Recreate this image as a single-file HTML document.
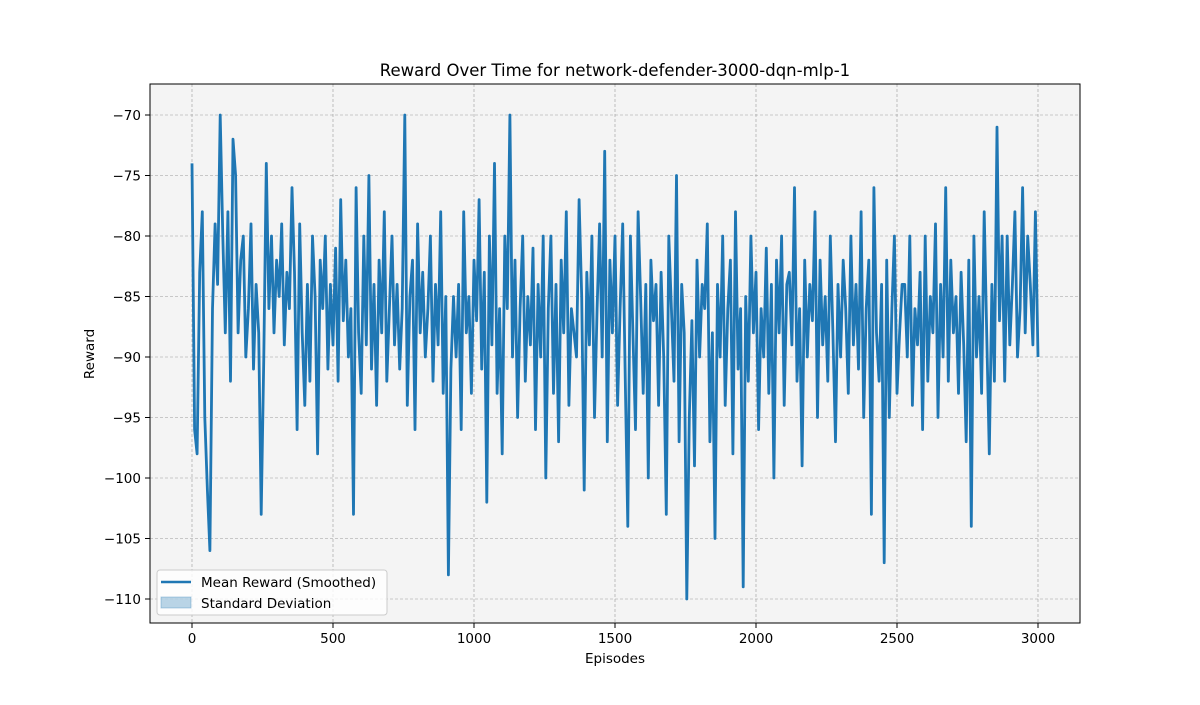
<!DOCTYPE html>
<html><head><meta charset="utf-8"><style>
body{margin:0;background:#fff}
svg text{font-family:"DejaVu Sans","Liberation Sans",sans-serif;fill:#000}
</style></head><body>
<svg id="c" width="1200" height="700" xmlns="http://www.w3.org/2000/svg">
<defs><clipPath id="clip"><rect x="150" y="84" width="930" height="539"/></clipPath></defs>
<rect x="0" y="0" width="1200" height="700" fill="#fff"/>
<rect x="150" y="84" width="930" height="539" fill="#f4f4f4"/>
<g id="grid"></g>
<g id="series" clip-path="url(#clip)"></g>
<rect x="150" y="84" width="930" height="539" fill="none" stroke="#000" stroke-width="1"/>
<g id="ticks"></g>
<text x="615" y="76" font-size="16.5" text-anchor="middle">Reward Over Time for network-defender-3000-dqn-mlp-1</text>
<text x="615" y="663" font-size="13.5" text-anchor="middle">Episodes</text>
<text x="94" y="354" font-size="13.5" text-anchor="middle" transform="rotate(-90 94 354)">Reward</text>
<g>
<rect x="157" y="570" width="230" height="45" rx="3" fill="#fff" fill-opacity="0.8" stroke="#ccc"/>
<g>
<line x1="161" y1="582" x2="191" y2="582" stroke="#1f77b4" stroke-width="2.5"/>
<text x="201" y="587" font-size="13.5">Mean Reward (Smoothed)</text>
</g>
<g>
<rect x="161" y="597" width="30" height="11" fill="#1f77b4" fill-opacity="0.3" stroke="#1f77b4" stroke-opacity="0.3"/>
<text x="201" y="608" font-size="13.5">Standard Deviation</text>
</g>
</g>
</svg>
<script>
const lastEpisode = 3000;
const rewards = [
-74,-96,-98,-83,-78,-95,-101,-106,-86,-79,-84,-70,-80,-88,-78,-92,-72,-75,-88,-82,
-80,-90,-86,-79,-91,-84,-88,-103,-90,-74,-86,-80,-88,-82,-85,-79,-89,-83,-86,-76,
-83,-96,-79,-88,-94,-84,-92,-80,-85,-98,-82,-86,-80,-91,-84,-89,-81,-92,-77,-87,
-82,-90,-86,-103,-76,-88,-93,-80,-89,-75,-91,-84,-94,-82,-88,-78,-92,-86,-80,-89,
-84,-91,-86,-70,-94,-85,-82,-96,-79,-88,-83,-90,-86,-80,-92,-84,-89,-78,-93,-85,
-108,-91,-85,-90,-84,-96,-78,-88,-85,-93,-82,-87,-77,-91,-83,-102,-80,-89,-74,-93,
-86,-98,-80,-86,-70,-90,-82,-95,-86,-80,-92,-85,-89,-81,-96,-84,-90,-80,-100,-86,
-80,-93,-84,-97,-82,-88,-78,-94,-86,-88,-90,-77,-85,-101,-83,-89,-80,-95,-86,-79,
-90,-73,-97,-82,-88,-80,-94,-86,-79,-92,-104,-80,-88,-96,-78,-85,-93,-84,-100,-82,
-87,-84,-94,-83,-90,-103,-80,-86,-92,-75,-97,-84,-88,-110,-95,-87,-99,-82,-90,-84,
-86,-79,-97,-88,-105,-84,-90,-80,-94,-86,-82,-98,-78,-91,-86,-109,-85,-92,-80,-88,
-83,-96,-86,-90,-81,-93,-84,-100,-82,-88,-80,-94,-84,-83,-89,-76,-92,-86,-99,-82,
-90,-84,-87,-78,-95,-82,-89,-85,-92,-80,-88,-97,-84,-90,-82,-86,-93,-80,-89,-84,
-91,-78,-95,-86,-82,-103,-76,-88,-92,-84,-107,-82,-95,-86,-80,-93,-88,-84,-84,-90,
-80,-94,-86,-89,-83,-96,-80,-92,-85,-88,-79,-95,-84,-90,-76,-92,-82,-88,-85,-93,
-83,-89,-97,-82,-104,-80,-90,-85,-93,-78,-88,-98,-84,-92,-71,-87,-80,-92,-80,-89,
-84,-78,-90,-86,-76,-88,-80,-84,-89,-78,-90
];
const xTicks = [0,500,1000,1500,2000,2500,3000];
const yTicks = [-70,-75,-80,-85,-90,-95,-100,-105,-110];
const xs = v => 192 + (v - 0) * (846 / 3000);
const ys = v => 115 + (-70 - v) * (484 / 40);
const NS = 'http://www.w3.org/2000/svg';
const grid = document.getElementById('grid'), ticks = document.getElementById('ticks');
function mk(t, a, p){const e=document.createElementNS(NS,t);for(const k in a)e.setAttribute(k,a[k]);p.appendChild(e);return e;}
xTicks.forEach(v=>{
  const x=xs(v);
  const g=mk('line',{x1:x,y1:84,x2:x,y2:623,stroke:'#999','stroke-width':0.6,'stroke-dasharray':'3,2'},grid);
  
  
  mk('line',{x1:x,y1:623,x2:x,y2:628,stroke:'#000'},ticks);
  const t=mk('text',{x:x,y:643,'font-size':13.5,'text-anchor':'middle'},ticks);
  t.textContent=v;
  
  
});
yTicks.forEach(v=>{
  const y=ys(v);
  const g=mk('line',{x1:150,y1:y,x2:1080,y2:y,stroke:'#999','stroke-width':0.6,'stroke-dasharray':'3,2'},grid);
  
  
  mk('line',{x1:145,y1:y,x2:150,y2:y,stroke:'#000'},ticks);
  const t=mk('text',{x:141,y:y+5,'font-size':13.5,'text-anchor':'end'},ticks);
  t.textContent='\u2212'+Math.abs(v);
  
  
});
const step = lastEpisode / (rewards.length - 1);
const d = rewards.map((v,i)=>(i?'L':'M')+xs(i*step).toFixed(1)+','+ys(v).toFixed(1)).join('');
const path = mk('path',{d:d,fill:'none',stroke:'#1f77b4','stroke-width':2.8,'stroke-linejoin':'round'},document.getElementById('series'));


</script>
</body></html>
